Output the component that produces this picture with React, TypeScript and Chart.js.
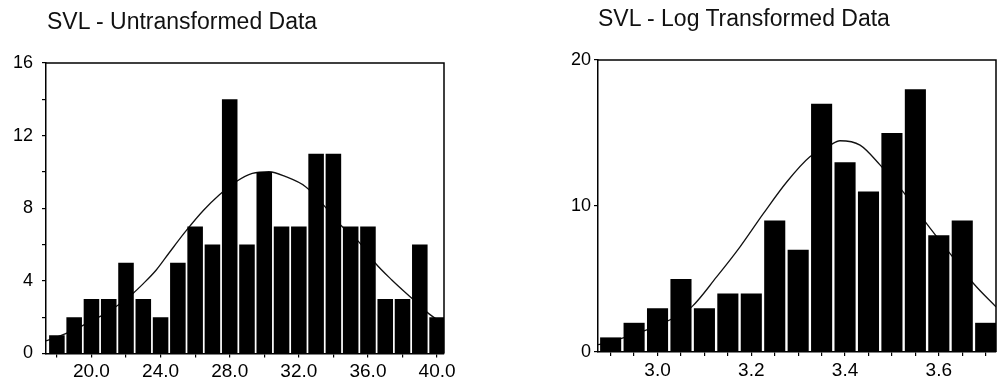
import React, { useEffect, useRef } from "react";
import { Chart, registerables } from "chart.js";

Chart.register(...registerables);

// ---------- Data ----------
const svlTitle = "SVL - Untransformed Data";
const svlBinCenters = [18, 19, 20, 21, 22, 23, 24, 25, 26, 27, 28, 29, 30, 31, 32, 33, 34, 35, 36, 37, 38, 39, 40];
const svlCounts = [1, 2, 3, 3, 5, 3, 2, 5, 7, 6, 14, 6, 10, 7, 7, 11, 11, 7, 7, 3, 3, 6, 2];
const svlCurveX = [17.37, 18, 19, 20, 21, 21.5, 22.4, 23.0, 23.75, 24.5, 25.47, 26.5, 27.39, 28.36, 29.31, 30.28, 31.24, 32.39, 33.35, 34.31, 35.46, 36.43, 37.38, 38.54, 39.5, 40.4];
const svlCurveY = [0.7, 0.9, 1.3, 1.8, 2.3, 2.64, 3.31, 3.85, 4.6, 5.55, 6.75, 7.9, 8.73, 9.46, 9.92, 10.01, 9.74, 9.19, 8.27, 7.17, 6.16, 4.97, 4.05, 3.04, 2.21, 1.6];
const svlYTickLabels = ["0", "4", "8", "12", "16"];
const svlXTickLabels = ["20.0", "24.0", "28.0", "32.0", "36.0", "40.0"];

const logTitle = "SVL - Log Transformed Data";
const logBinCenters = [2.9, 2.95, 3.0, 3.05, 3.1, 3.15, 3.2, 3.25, 3.3, 3.35, 3.4, 3.45, 3.5, 3.55, 3.6, 3.65, 3.7];
const logCounts = [1, 2, 3, 5, 3, 4, 4, 9, 7, 17, 13, 11, 15, 18, 8, 9, 2];
const logCurveX = [2.873, 2.9, 2.95, 3.0, 3.05, 3.073, 3.126, 3.176, 3.226, 3.276, 3.325, 3.368, 3.389, 3.432, 3.475, 3.524, 3.574, 3.624, 3.674, 3.722];
const logCurveY = [0.5, 0.7, 1.2, 1.8, 2.6, 3.09, 5.14, 7.2, 9.49, 11.66, 13.37, 14.17, 14.47, 14.17, 12.8, 10.97, 8.8, 6.74, 4.69, 3.09];
const logYTickLabels = ["0", "10", "20"];
const logXTickLabels = ["3.0", "3.2", "3.4", "3.6"];

// ---------- Helpers ----------
const FONT = "'Liberation Sans', Arial, Helvetica, sans-serif";

const framePlugin = {
  id: "frame",
  afterDatasetsDraw(chart: any) {
    const { ctx, chartArea } = chart;
    const { left, top, right, bottom } = chartArea;
    ctx.save();
    ctx.strokeStyle = "#000";
    ctx.lineWidth = 1.5;
    ctx.beginPath();
    ctx.moveTo(left, top);
    ctx.lineTo(right, top);
    ctx.lineTo(right, bottom);
    ctx.stroke();
    ctx.restore();
  },
};

type HistProps = {
  width: number;
  height: number;
  centers: number[];
  counts: number[];
  curveX: number[];
  curveY: number[];
  xMin: number;
  xMax: number;
  xStep: number;
  xLabels: string[];
  yMax: number;
  yStep: number;
  yLabels: string[];
  yAxisWidth: number;
  xAxisHeight: number;
  padTop: number;
  padRight: number;
  yLabelPad: number;
};

function matchLabel(v: number, labels: string[], digits: number): string {
  for (const l of labels) {
    if (Math.abs(parseFloat(l) - v) < 1e-6) return digits >= 0 ? v.toFixed(digits) : l;
  }
  return "";
}

function Histogram(p: HistProps) {
  const ref = useRef<HTMLCanvasElement | null>(null);
  useEffect(() => {
    if (!ref.current) return;
    const xDigits = p.xLabels[0].includes(".") ? p.xLabels[0].split(".")[1].length : 0;
    const chart = new Chart(ref.current, {
      type: "bar",
      data: {
        datasets: [
          {
            type: "bar",
            data: p.centers.map((x, i) => ({ x, y: p.counts[i] })),
            backgroundColor: "#000",
            borderWidth: 0,
            barPercentage: 0.9,
            categoryPercentage: 1.0,
            order: 0,
          } as any,
          {
            type: "line",
            data: p.curveX.map((x, i) => ({ x, y: p.curveY[i] })),
            borderColor: "#111",
            borderWidth: 1.3,
            pointRadius: 0,
            cubicInterpolationMode: "monotone",
            fill: false,
            order: 1,
          } as any,
        ],
      },
      options: {
        animation: false,
        responsive: false,
        maintainAspectRatio: false,
        layout: { padding: { top: p.padTop, right: p.padRight, bottom: 0, left: 0 } },
        plugins: { legend: { display: false }, tooltip: { enabled: false }, title: { display: false } },
        scales: {
          x: {
            type: "linear",
            min: p.xMin,
            max: p.xMax,
            offset: false,
            border: { display: true, color: "#000", width: 1.5 },
            grid: { display: true, drawOnChartArea: false, drawTicks: true, tickLength: 4, color: "#000", lineWidth: 1.2, offset: false },
            ticks: {
              stepSize: p.xStep,
              includeBounds: false,
              autoSkip: false,
              maxRotation: 0,
              minRotation: 0,
              padding: 3,
              color: "#000",
              font: { family: FONT, size: 19 },
              callback: (v: any) => matchLabel(Number(v), p.xLabels, xDigits),
            },
            afterFit: (s: any) => {
              s.height = p.xAxisHeight;
            },
          },
          y: {
            type: "linear",
            min: 0,
            max: p.yMax,
            border: { display: true, color: "#000", width: 1.5 },
            grid: { display: true, drawOnChartArea: false, drawTicks: true, tickLength: 4, color: "#000", lineWidth: 1.2 },
            ticks: {
              stepSize: p.yStep,
              autoSkip: false,
              padding: p.yLabelPad,
              color: "#000",
              font: { family: FONT, size: 18 },
              callback: (v: any) => matchLabel(Number(v), p.yLabels, -1),
            },
            afterFit: (s: any) => {
              s.width = p.yAxisWidth;
            },
          },
        },
      } as any,
      plugins: [framePlugin],
    });
    return () => chart.destroy();
  }, []);
  return <canvas ref={ref} width={p.width} height={p.height} style={{ display: "block", width: p.width, height: p.height }} />;
}

const titleStyle: React.CSSProperties = {
  position: "absolute",
  fontFamily: FONT,
  fontSize: 23,
  lineHeight: "26px",
  color: "#111",
  whiteSpace: "nowrap",
};

export default function App() {
  return (
    <div style={{ position: "absolute", left: 0, top: 0, width: 1005, height: 385, background: "#fff", overflow: "hidden" }}>
      <div style={{ position: "absolute", left: 0, top: 0 }}>
        <Histogram
          width={520}
          height={385}
          centers={svlBinCenters}
          counts={svlCounts}
          curveX={svlCurveX}
          curveY={svlCurveY}
          xMin={17.37}
          xMax={40.4}
          xStep={2}
          xLabels={svlXTickLabels}
          yMax={16}
          yStep={2}
          yLabels={svlYTickLabels}
          yAxisWidth={46}
          xAxisHeight={31.5}
          padTop={63}
          padRight={76}
          yLabelPad={9}
        />
      </div>
      <div style={{ position: "absolute", left: 520, top: 0 }}>
        <Histogram
          width={485}
          height={385}
          centers={logBinCenters}
          counts={logCounts}
          curveX={logCurveX}
          curveY={logCurveY}
          xMin={2.873}
          xMax={3.722}
          xStep={0.05}
          xLabels={logXTickLabels}
          yMax={20}
          yStep={10}
          yLabels={logYTickLabels}
          yAxisWidth={78}
          xAxisHeight={33}
          padTop={60}
          padRight={9}
          yLabelPad={3}
        />
      </div>
      <div style={{ ...titleStyle, left: 47, top: 8 }}>{svlTitle}</div>
      <div style={{ ...titleStyle, left: 598, top: 5 }}>{logTitle}</div>
    </div>
  );
}
